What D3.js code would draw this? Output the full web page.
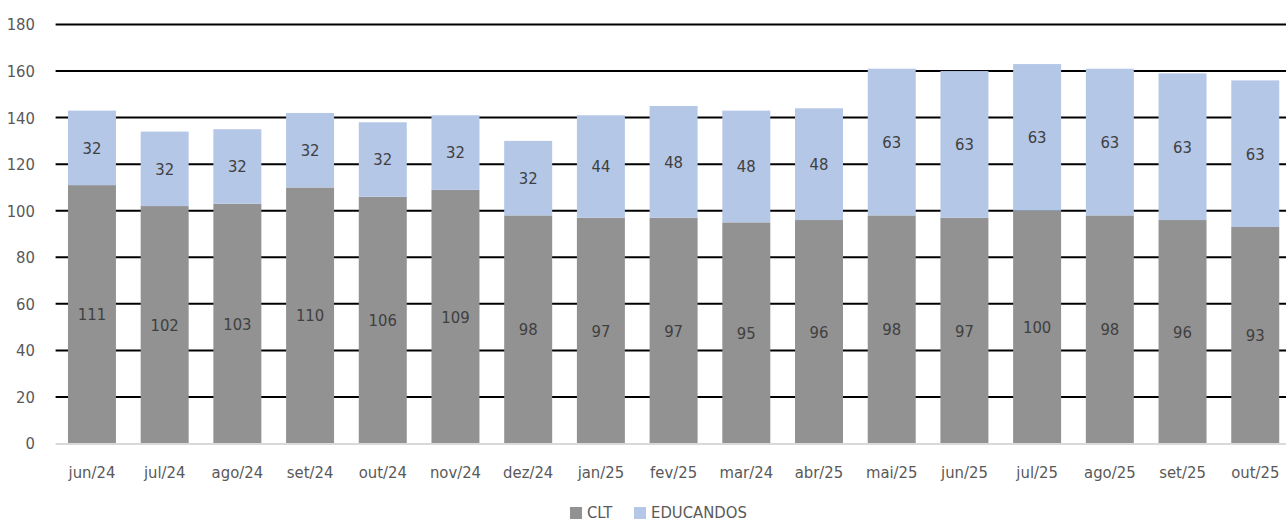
<!DOCTYPE html>
<html>
<head>
<meta charset="utf-8">
<script src="https://cdn.jsdelivr.net/npm/d3@7"></script>
<style>
  body { margin: 0; background: #fff; }
  svg text { font-family: "DejaVu Sans Condensed", "Liberation Sans Narrow", sans-serif; }
</style>
</head>
<body>
<svg id="chart" width="1286" height="523"></svg>
<script>
var months = ['jun/24', 'jul/24', 'ago/24', 'set/24', 'out/24', 'nov/24', 'dez/24', 'jan/25', 'fev/25',
    'mar/24', 'abr/25', 'mai/25', 'jun/25', 'jul/25', 'ago/25', 'set/25', 'out/25'];
var clt = [111, 102, 103, 110, 106, 109, 98, 97, 97, 95, 96, 98, 97, 100, 98, 96, 93];
var educandos = [32, 32, 32, 32, 32, 32, 32, 44, 48, 48, 48, 63, 63, 63, 63, 63, 63];
var yTicks = [0, 20, 40, 60, 80, 100, 120, 140, 160, 180];
var seriesNames = ['CLT', 'EDUCANDOS'];
var colors = ['#929292', '#b4c7e7'];

var rows = months.map(function (m, i) {
    return { month: m, CLT: clt[i], EDUCANDOS: educandos[i] };
});

var svg = d3.select('#chart');

var x = d3.scaleBand()
    .domain(months)
    .range([55.6, 1291.6])
    .paddingInner(0.34)
    .paddingOuter(0.17);

var y = d3.scaleLinear()
    .domain([0, 180])
    .range([443.5, 24.5]);

// gridlines sit behind the bars
svg.append('g')
    .selectAll('line')
    .data(yTicks.filter(function (t) { return t > 0; }))
    .enter()
    .append('line')
    .attr('x1', 55.6)
    .attr('x2', 1291.6)
    .attr('y1', function (d) { return y(d); })
    .attr('y2', function (d) { return y(d); })
    .attr('stroke', '#000')
    .attr('stroke-width', 2);

svg.append('g')
    .selectAll('text')
    .data(yTicks)
    .enter()
    .append('text')
    .attr('x', 35)
    .attr('y', function (d) { return y(d); })
    .attr('dy', '0.36em')
    .attr('text-anchor', 'end')
    .attr('font-size', 16.5)
    .attr('fill', '#595959')
    .text(function (d) { return d; });

var stacked = d3.stack().keys(seriesNames)(rows);

var layers = svg.append('g')
    .selectAll('g')
    .data(stacked)
    .enter()
    .append('g')
    .attr('fill', function (d, i) { return colors[i]; });

layers.selectAll('rect')
    .data(function (d) { return d; })
    .enter()
    .append('rect')
    .attr('x', function (d) { return x(d.data.month); })
    .attr('width', x.bandwidth())
    .attr('y', function (d) { return y(d[1]); })
    .attr('height', function (d) { return y(d[0]) - y(d[1]); });

layers.selectAll('text')
    .data(function (d) { return d; })
    .enter()
    .append('text')
    .attr('x', function (d) { return x(d.data.month) + x.bandwidth() / 2; })
    .attr('y', function (d) { return y((d[0] + d[1]) / 2); })
    .attr('dy', '0.36em')
    .attr('text-anchor', 'middle')
    .attr('font-size', 16.5)
    .attr('fill', '#404040')
    .text(function (d) { return d[1] - d[0]; });

svg.append('line')
    .attr('x1', 55.6)
    .attr('x2', 1291.6)
    .attr('y1', y(0) + 0.5)
    .attr('y2', y(0) + 0.5)
    .attr('stroke', '#d9d9d9')
    .attr('stroke-width', 2);

svg.append('g')
    .selectAll('text')
    .data(months)
    .enter()
    .append('text')
    .attr('x', function (d) { return x(d) + x.bandwidth() / 2; })
    .attr('y', 478)
    .attr('text-anchor', 'middle')
    .attr('font-size', 16.5)
    .attr('fill', '#595959')
    .text(function (d) { return d; });

// legend
var legend = svg.append('g');
var legendX = [570, 634];
seriesNames.forEach(function (name, i) {
    legend.append('rect')
        .attr('x', legendX[i])
        .attr('y', 507)
        .attr('width', 12)
        .attr('height', 12)
        .attr('fill', colors[i]);
    legend.append('text')
        .attr('x', legendX[i] + 17)
        .attr('y', 518)
        .attr('font-size', 16.5)
        .attr('fill', '#595959')
        .text(name);
});
</script>
</body>
</html>
